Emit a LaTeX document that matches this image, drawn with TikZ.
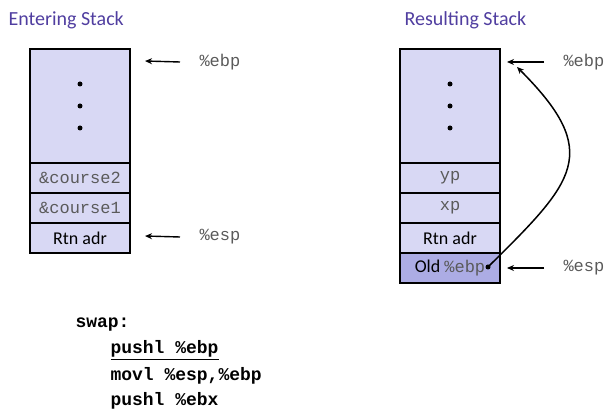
\documentclass[tikz,border=0pt]{standalone}
\usepackage{fontspec}
\setmainfont{Carlito}
\setmonofont{Liberation Mono}
\usetikzlibrary{positioning, arrows.meta}
\definecolor{cellfill}{RGB}{216,216,244}
\definecolor{oldfill}{RGB}{172,172,228}
\definecolor{titlecol}{RGB}{80,62,160}
\definecolor{regcol}{RGB}{90,90,90}

\begin{document}
\begin{tikzpicture}[x=1pt, y=-1pt,
    cell/.style={draw, line width=1.2pt, fill=cellfill, minimum width=100pt,
      minimum height=30pt, inner sep=0pt, outer sep=0pt, font=\fontsize{18}{18}\selectfont},
    frame/.style={cell, minimum height=114pt},
    mono/.style={font=\fontsize{17}{17}\selectfont\ttfamily, text=regcol},
    title/.style={font=\fontsize{20}{20}\selectfont, text=titlecol, anchor=west},
    code/.style={font=\fontsize{18}{18}\selectfont\ttfamily\bfseries, anchor=west},
    ptr/.style={-{Stealth[length=7pt, width=6pt]}, line width=1.4pt},
    dot/.style={circle, fill, inner sep=0pt, minimum size=5pt}]
    \useasboundingbox (0,0) rectangle (606,414);

    % entering stack
    \node[title] (tleft) at (5,20) {Entering Stack};
    \node[frame] (lframe) at (80,106) {};
    \node[cell, below=0pt of lframe, mono] (lc2) {\&course2};
    \node[cell, below=0pt of lc2, mono] (lc1) {\&course1};
    \node[cell, below=0pt of lc1] (lrtn) {Rtn adr};
    \foreach \y in {84,106,128}
      \node[dot] at (80,\y) {};
    \node[mono, anchor=west] (lebp) at (196,62) {\%ebp};
    \node[mono, anchor=west] (lesp) at (196,237) {\%esp};
    \coordinate (lebptip) at (145,61);
    \coordinate (lesptip) at (145,236);
    \draw[ptr] ([xshift=-16pt]lebp.west) -- (lebptip);
    \draw[ptr] ([xshift=-16pt]lesp.west) -- (lesptip);

    % resulting stack
    \node[title] (tright) at (401,20) {Resulting Stack};
    \node[frame] (rframe) at (450,106) {};
    \node[cell, below=0pt of rframe, mono] (ryp) {yp};
    \node[cell, below=0pt of ryp, mono] (rxp) {xp};
    \node[cell, below=0pt of rxp] (rrtn) {Rtn adr};
    \node[cell, below=0pt of rrtn, fill=oldfill] (rold) {Old {\fontsize{17}{17}\selectfont\ttfamily\color{regcol}\%ebp}};
    \foreach \y in {84,106,128}
      \node[dot] at (450,\y) {};
    \node[mono, anchor=west] (rebp) at (560,62) {\%ebp};
    \node[mono, anchor=west] (resp) at (560,268) {\%esp};
    \coordinate (rebptip) at (507,62);
    \coordinate (resptip) at (507,268);
    \draw[ptr] ([xshift=-16pt]rebp.west) -- (rebptip);
    \draw[ptr] ([xshift=-16pt]resp.west) -- (resptip);
    \node[dot] (olddot) at (488,267) {};
    \coordinate (savedtip) at (517,67);
    \draw[ptr, line width=1.5pt] (olddot.center) .. controls (575,181) and (603,153) .. (savedtip);

    % code
    \node[code] (lswap) at (72,325) {swap:};
    \node[code] (lpush) at (107,350) {\underline{pushl \%ebp}};
    \node[code] (lmov) at (107,376) {movl \%esp,\%ebp};
    \node[code] (lpushx) at (107,401) {pushl \%ebx};
\end{tikzpicture}
\end{document}
